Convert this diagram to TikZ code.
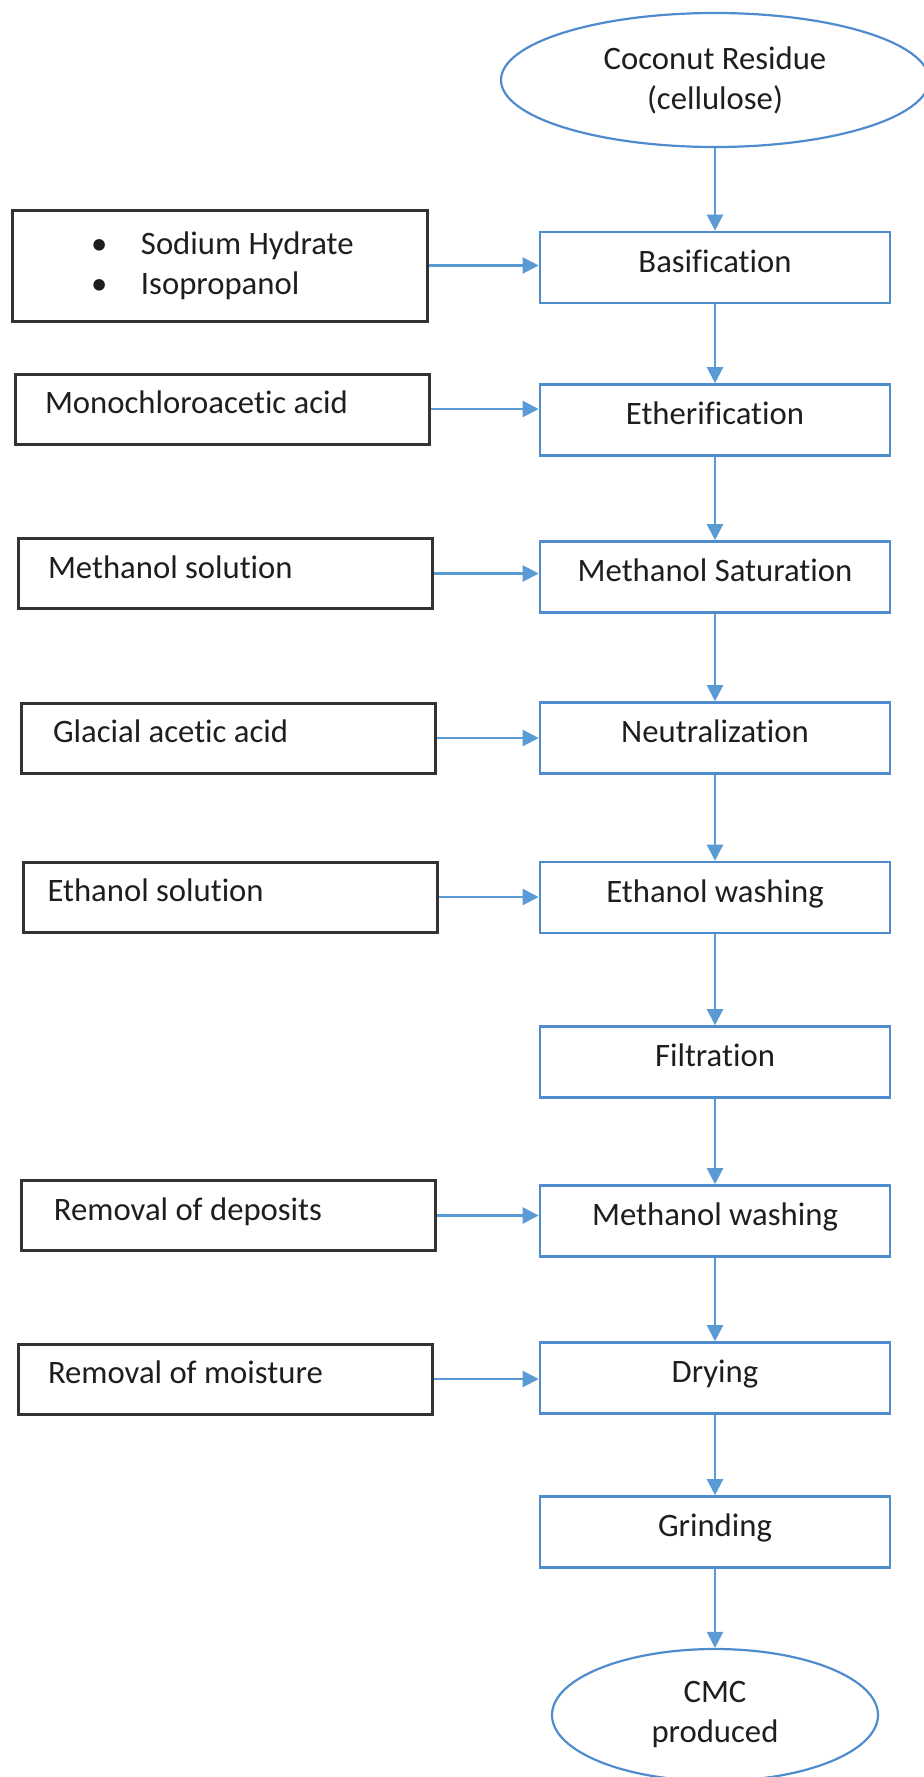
\documentclass[tikz,border=0pt]{standalone}
\usepackage{fontspec}
\setmainfont{Carlito}[Ligatures=CommonOff]
\usetikzlibrary{shapes.geometric,arrows.meta}
\definecolor{boxblue}{RGB}{79,140,206}
\definecolor{arrblue}{RGB}{91,155,213}
\definecolor{inkgray}{RGB}{30,30,30}
\begin{document}
\begin{tikzpicture}[x=0.5pt,y=-0.5pt,
  every node/.style={font=\fontsize{16.35pt}{20pt}\selectfont, text=inkgray},
  stepbox/.style={draw=boxblue, line width=1.3pt, minimum width=175pt, minimum height=35.5pt,
    inner sep=0pt, text height=12.3pt, text depth=7.4pt},
  inbox/.style={draw=black!80, line width=1.5pt, minimum width=207pt, minimum height=35pt,
    inner xsep=15pt, inner ysep=0pt, text width=177pt, align=flush left, text height=12.3pt, text depth=7.4pt},
  bulletbox/.style={draw=black!80, line width=1.5pt, minimum width=207.5pt, minimum height=55.5pt,
    inner sep=0pt, text width=207.5pt, align=flush left},
  endpt/.style={draw=boxblue, line width=1.1pt, ellipse, inner sep=0pt, align=center},
  arr/.style={draw=arrblue, line width=1.1pt, -{Triangle[length=8pt,width=8pt]}}
]
\clip (0,0) rectangle (924,1777);

% main column
\node[endpt, minimum width=214pt, minimum height=67pt] (src) at (715,80) {Coconut Residue\\(cellulose)};
\node[stepbox] (b1) at (715,267.5) {Basification};
\node[stepbox] (b2) at (715,420) {Etherification};
\node[stepbox] (b3) at (715,577) {Methanol Saturation};
\node[stepbox] (b4) at (715,738) {Neutralization};
\node[stepbox] (b5) at (715,897.5) {Ethanol washing};
\node[stepbox] (b6) at (715,1062) {Filtration};
\node[stepbox] (b7) at (715,1221) {Methanol washing};
\node[stepbox] (b8) at (715,1378) {Drying};
\node[stepbox] (b9) at (715,1532) {Grinding};
\node[endpt, minimum width=163pt, minimum height=66pt] (cmc) at (715,1715) {CMC\\produced};

% inputs
\node[bulletbox] (i1) at (219.5,265.5) {\makebox[64.5pt][l]{\hspace*{39.5pt}\textbullet}Sodium Hydrate\\
  \makebox[64.5pt][l]{\hspace*{39.5pt}\textbullet}Isopropanol};
\node[inbox] (i2) at (222,409) {Monochloroacetic acid};
\node[inbox] (i3) at (225,573.5) {Methanol solution};
\node[inbox, inner xsep=16pt, text width=175pt] (i4) at (228,738) {Glacial acetic acid};
\node[inbox, inner xsep=12pt, text width=183pt] (i5) at (230.5,897) {Ethanol solution};
\node[inbox, inner xsep=16.5pt, text width=174pt] (i6) at (228,1215.5) {Removal of deposits};
\node[inbox] (i7) at (225,1379) {Removal of moisture};

% vertical flow
\draw[arr] (src.south) -- (b1.north);
\draw[arr] (b1.south) -- (b2.north);
\draw[arr] (b2.south) -- (b3.north);
\draw[arr] (b3.south) -- (b4.north);
\draw[arr] (b4.south) -- (b5.north);
\draw[arr] (b5.south) -- (b6.north);
\draw[arr] (b6.south) -- (b7.north);
\draw[arr] (b7.south) -- (b8.north);
\draw[arr] (b8.south) -- (b9.north);
\draw[arr] (b9.south) -- (cmc.north);

% side inputs
\draw[arr] (i1.east) -- (i1.east -| b1.west);
\draw[arr] (i2.east) -- (i2.east -| b2.west);
\draw[arr] (i3.east) -- (i3.east -| b3.west);
\draw[arr] (i4.east) -- (i4.east -| b4.west);
\draw[arr] (i5.east) -- (i5.east -| b5.west);
\draw[arr] (i6.east) -- (i6.east -| b7.west);
\draw[arr] (i7.east) -- (i7.east -| b8.west);
\end{tikzpicture}
\end{document}
